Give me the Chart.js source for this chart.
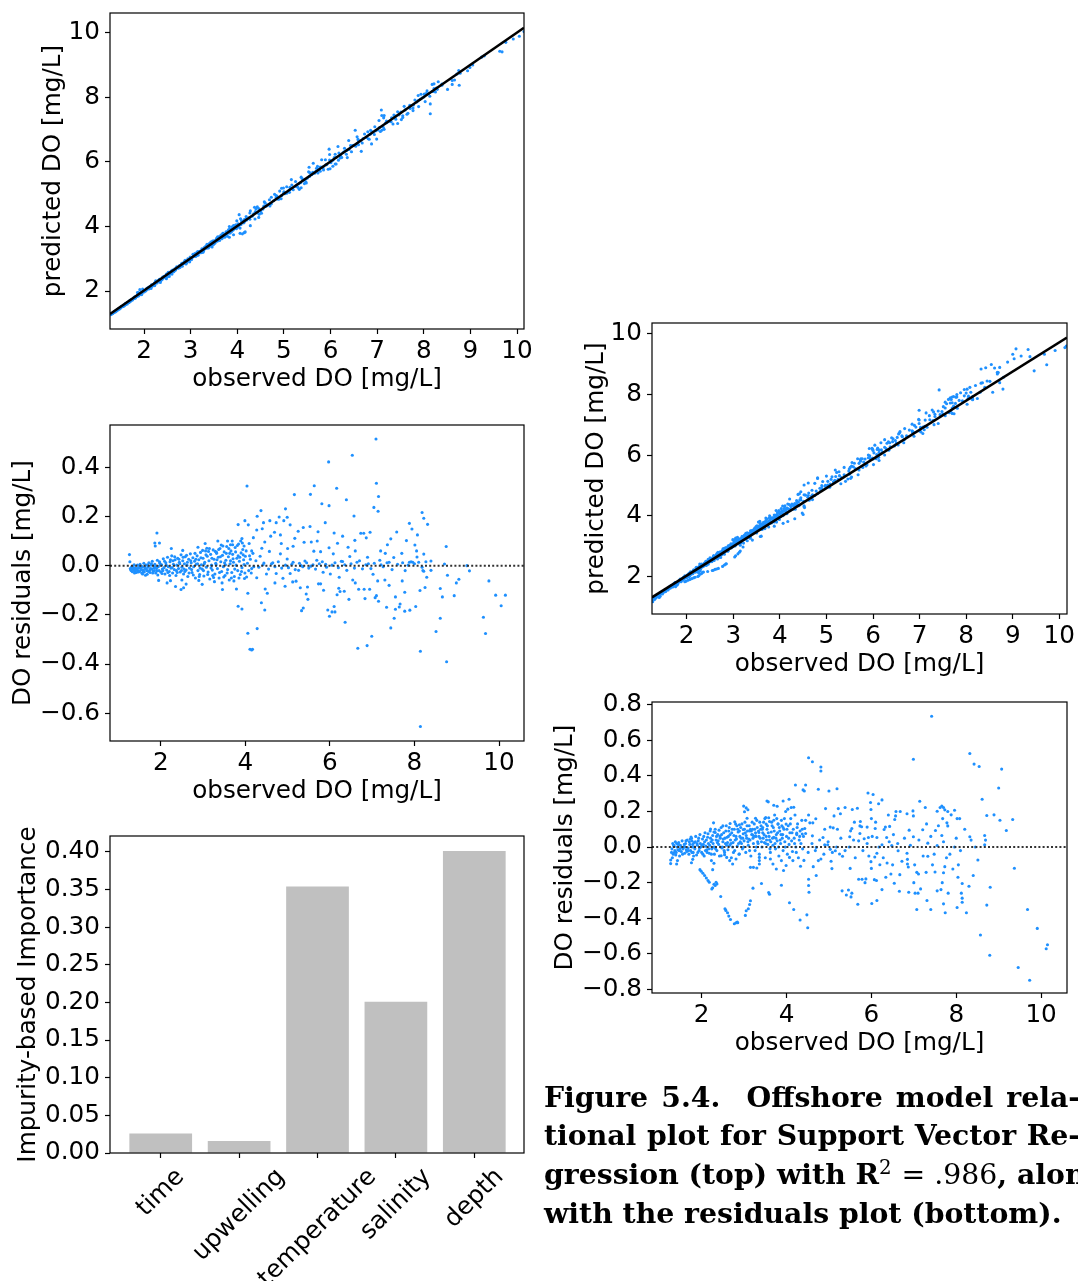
<!DOCTYPE html>
<html>
<head>
<meta charset="utf-8">
<script src="https://cdn.jsdelivr.net/npm/chart.js@4.4.1/dist/chart.umd.min.js"></script>
<style>
body { margin: 0; background: #fff; }
#page { position: relative; width: 1078px; height: 1281px; overflow: hidden; background: #fff; }
#page canvas { position: absolute; }
.cap { position: absolute; left: 544px; top: 1078px; width: 536px; font-family: 'DejaVu Serif', serif; font-weight: bold; font-size: 28.3px; line-height: 38.3px; color: #000; }
.cap div { white-space: nowrap; }
.cap .j { text-align: justify; text-align-last: justify; }
.cap .m { font-weight: normal; }
.cap sup { font-weight: normal; font-size: 0.7em; line-height: 0; vertical-align: 0.5em; }
</style>
</head>
<body>
<div id="page">
  <canvas id="predLeft" width="540" height="400" style="left:0;top:0"></canvas>
  <canvas id="resLeft" width="540" height="420" style="left:0;top:400px"></canvas>
  <canvas id="importance" width="540" height="461" style="left:0;top:820px"></canvas>
  <canvas id="predRight" width="538" height="390" style="left:540px;top:300px"></canvas>
  <canvas id="resRight" width="538" height="400" style="left:540px;top:680px"></canvas>
  <div class="cap">
    <div class="j">Figure 5.4.&nbsp; Offshore model rela-</div>
    <div class="j">tional plot for Support Vector Re-</div>
    <div>gression (top) with R<sup>2</sup> <span class="m">= .986</span>, along</div>
    <div>with the residuals plot (bottom).</div>
  </div>
</div>
<script>
// residuals: [observed DO, residual]
// predicted DO = observed + residual
const leftResiduals = [
  [7.09,0.515],[6.53,0.449],[5.97,0.422],[7.10,0.335],[7.15,0.281],[4.04,0.324],[5.63,0.325],[5.16,0.289],[5.54,0.290],[6.16,0.315],
  [5.81,0.252],[5.98,0.244],[6.39,0.268],[7.04,0.237],[7.14,0.221],[8.18,0.216],[8.22,0.193],[8.31,0.168],[6.57,0.202],[4.95,0.231],
  [4.37,0.224],[4.28,0.201],[3.83,0.167],[3.99,0.183],[4.07,0.166],[4.58,0.183],[4.80,0.198],[4.91,0.183],[4.99,0.197],[5.06,0.166],
  [4.73,0.175],[5.89,0.175],[7.88,0.172],[7.94,0.149],[8.07,0.125],[7.58,0.137],[6.10,0.133],[5.72,0.138],[5.53,0.159],[5.37,0.155],
  [1.91,0.133],[1.86,0.092],[1.97,0.092],[1.87,0.08],[1.26,0.045],[1.27,0.016],[4.46,0.096],[4.19,0.114],[4.27,0.145],[4.43,0.175],
  [3.92,0.11],[4.09,0.09],[4.69,0.136],[4.83,0.125],[5.17,0.111],[5.39,0.095],[5.56,0.096],[6.18,0.091],[6.73,0.132],[6.80,0.132],
  [6.95,0.136],[6.59,0.103],[6.86,0.113],[7.36,0.085],[7.44,0.109],[7.81,0.102],[8.01,0.084],[8.75,0.078],[8.22,0.047],[7.31,0.05],
  [6.43,0.075],[5.98,0.073],[5.78,0.057],[5.13,0.079],[4.39,0.071],[3.65,0.085],[3.09,0.071],[3.32,0.054],
  [2.48,-0.097],[2.54,-0.09],[2.98,-0.076],[2.23,-0.061],[1.64,-0.039],[3.27,-0.065],[3.46,-0.097],[3.79,-0.095],[4.06,-0.112],[3.83,-0.165],
  [3.92,-0.176],[4.06,-0.275],[4.28,-0.256],[4.11,-0.340],[4.15,-0.343],[4.17,-0.340],[4.38,-0.151],[4.46,-0.18],[4.52,-0.112],[4.47,-0.095],
  [4.94,-0.084],[5.12,-0.066],[5.20,-0.063],[5.33,-0.183],[5.37,-0.172],[5.48,-0.137],[5.44,-0.115],[5.47,-0.087],[5.73,-0.074],[5.78,-0.074],
  [5.95,-0.18],[5.99,-0.206],[6.05,-0.188],[6.10,-0.166],[6.12,-0.188],[6.21,-0.092],[6.24,-0.105],[6.17,-0.118],[6.36,-0.23],[6.45,-0.137],
  [6.34,-0.104],[6.66,-0.336],[6.88,-0.325],[6.99,-0.287],[6.68,-0.096],[6.81,-0.096],[6.83,-0.134],[6.94,-0.096],[7.07,-0.13],[7.15,-0.145],
  [7.10,-0.122],[7.34,-0.169],[7.44,-0.253],[7.52,-0.214],[7.55,-0.177],[7.55,-0.127],[7.64,-0.168],[7.66,-0.156],[7.77,-0.185],[7.77,-0.108],
  [7.89,-0.181],[8.03,-0.166],[8.13,-0.101],[8.14,-0.348],[8.14,-0.654],[8.25,-0.089],[8.51,-0.268],[8.61,-0.214],[8.61,-0.093],[8.66,-0.127],
  [8.76,-0.391],[8.94,-0.122],[8.99,-0.07],[9.05,-0.055],[9.30,-0.021],[9.24,0.0],[9.76,-0.062],[9.63,-0.21],[9.68,-0.276],[9.92,-0.12],
  [10.05,-0.163],[10.15,-0.12],
  [8.71,0.007],[8.78,-0.039],[8.39,0.019],[8.39,-0.019],[8.29,-0.047],[8.22,-0.023],[8.06,0.035],[7.96,0.014],[7.88,0.014],[7.78,-0.02],
  [7.71,-0.062],[7.51,0.033],[7.40,0.014],[7.30,-0.058],[7.21,0.004],[7.13,-0.062],[7.02,-0.035],[6.89,0.034],[6.91,0.008],[6.77,-0.013],
  [6.64,0.014],[6.54,-0.058],[6.47,0.037],[6.40,-0.019],[6.30,0.017],[6.22,-0.047],[6.08,0.048],[6.01,-0.034],[5.90,0.006],[5.84,-0.027],
  [5.69,0.022],[5.62,0.059],[5.55,-0.002],[5.41,0.019],[5.32,0.0],[5.26,-0.019],[5.13,0.014],[5.06,-0.032],[4.99,0.027],[4.89,-0.051],
  [4.83,0.048],[4.73,-0.032],[4.65,0.012],[4.57,0.058],[4.50,-0.034],[4.44,0.011],[4.35,0.038],[4.27,-0.049],[4.20,-0.004],[4.12,0.026],
  [4.03,-0.046],[3.97,0.005],
  [4.05,0.01],[4.15,-0.012],[4.25,0.02],[4.32,-0.006],[4.42,0.004],[4.55,-0.014],[4.62,0.008],[4.70,-0.004],[4.78,0.016],[4.86,-0.01],
  [4.95,0.002],[5.02,-0.008],[5.10,0.006],[5.18,-0.016],[5.28,0.01],[5.36,-0.004],[5.45,0.012],[5.50,-0.01],[5.60,0.004],[5.66,-0.014],
  [5.75,0.008],[5.82,0.016],[5.92,-0.006],[6.05,0.002],[6.12,0.012],[6.20,-0.008],[6.27,0.018],[6.35,0.004],[6.50,0.008],[6.58,-0.01],
  [6.70,0.02],[6.85,0.004],[6.97,-0.012],[7.05,0.01],[7.18,0.022],[7.26,-0.004],[7.35,0.012],[7.47,-0.016],[7.60,0.006],[7.72,0.012],
  [7.85,0.002],[7.92,0.016],[8.00,0.008],[8.10,0.014],[8.18,-0.006],[8.27,0.016],
  [4.60,0.12],[4.85,0.09],[5.25,0.14],[5.70,0.10],[4.15,0.06],[4.40,0.15],[5.00,0.07],[6.30,0.12],[6.60,0.06],[7.20,0.06],
  [7.70,0.05],[8.05,0.06],[4.70,-0.07],[5.30,-0.09],[5.85,-0.10],[6.60,-0.07],[7.40,-0.08],[8.20,-0.02],
  [1.28,-0.012],[1.30,-0.02],[1.31,-0.005],[1.33,-0.025],[1.34,-0.012],[1.36,-0.018],[1.37,0.004],[1.39,-0.022],[1.40,-0.01],[1.42,-0.028],
  [1.43,-0.015],[1.45,0.002],[1.46,-0.02],[1.48,-0.008],[1.50,-0.024],[1.51,0.006],[1.53,-0.016],[1.55,-0.03],[1.56,-0.004],[1.58,-0.019],
  [1.60,0.01],[1.61,-0.026],[1.63,-0.012],[1.65,0.003],[1.67,-0.02],[1.68,-0.035],[1.70,-0.006],[1.72,0.012],[1.74,-0.018],[1.75,-0.028],
  [1.77,0.002],[1.79,-0.014],[1.80,0.018],[1.82,-0.022],[1.84,-0.008],[1.86,0.006],[1.88,-0.03],[1.90,-0.012],[1.92,0.022],[1.94,-0.004],
  [1.96,-0.02],[1.98,0.01],[2.00,-0.026],[2.02,0.004],[2.04,-0.014],[2.06,0.028],[2.08,-0.008],[2.10,-0.034],[2.12,0.012],[2.14,-0.018],
  [2.16,0.034],[2.18,-0.004],[2.20,-0.024],[2.22,0.016],[2.24,-0.01],[2.26,0.04],[2.28,-0.03],[2.30,0.006],[2.32,-0.016],[2.34,0.024],
  [2.36,-0.04],[2.38,0.002],[2.40,0.03],[2.42,-0.012],[2.44,0.014],[2.46,-0.026],[2.48,0.044],[2.50,-0.006],[2.52,0.02],[2.54,-0.034],
  [2.56,0.008],[2.58,0.036],[2.60,-0.018],[2.62,0.002],[2.64,-0.044],[2.66,0.026],[2.68,-0.01],[2.70,0.048],[2.72,0.012],[2.74,-0.028],
  [2.76,0.032],[2.78,-0.004],[2.80,0.018],[2.82,-0.05],[2.84,0.006],[2.86,0.04],[2.88,-0.02],[2.90,0.024],[2.92,-0.036],[2.94,0.054],
  [2.96,0.004],[2.98,-0.014],[3.00,0.03],[3.02,-0.042],[3.04,0.014],[3.06,0.06],[3.08,-0.006],[3.10,0.038],[3.12,-0.026],[3.14,0.02],
  [3.16,-0.054],[3.18,0.046],[3.20,0.002],[3.22,-0.018],[3.24,0.064],[3.26,0.026],[3.28,-0.034],[3.30,0.01],[3.32,0.05],[3.34,-0.012],
  [3.36,0.034],[3.38,-0.05],[3.40,0.07],[3.42,0.016],[3.44,-0.024],[3.46,0.042],[3.48,-0.004],[3.50,0.056],[3.52,-0.04],[3.54,0.022],
  [3.56,0.078],[3.58,-0.016],[3.60,0.036],[3.62,-0.058],[3.64,0.008],[3.66,0.06],[3.68,-0.028],[3.70,0.046],[3.72,0.014],[3.74,-0.044],
  [3.76,0.074],[3.78,0.002],[3.80,0.03],[3.82,-0.02],[3.84,0.088],[3.86,0.018],[3.88,-0.036],[3.90,0.052],[3.92,-0.008],[3.94,0.066],
  [3.96,0.024],[3.98,-0.052],[4.00,0.038],
  [1.32,-0.01],[1.38,-0.03],[1.44,-0.012],[1.52,-0.002],[1.57,-0.034],[1.62,-0.006],[1.71,-0.024],[1.78,0.008],[1.85,-0.02],[1.93,-0.038],
  [1.99,0.002],[2.05,-0.02],[2.13,0.002],[2.21,-0.04],[2.29,0.02],[2.37,-0.02],[2.45,0.008],[2.55,-0.014],[2.63,0.014],[2.73,-0.016],
  [2.83,0.026],[2.93,-0.01],[3.03,0.008],[3.13,0.058],[3.23,-0.04],[3.33,0.024],[3.43,0.084],[3.53,0.004],[3.63,0.05],[3.73,-0.062],
  [3.83,0.04],[3.93,0.092],[2.25,0.07],[2.52,0.062],[2.88,0.075],[3.05,0.09],[3.35,0.10],[3.58,0.10],[3.70,0.085],[3.45,-0.07],
  [2.90,-0.06],[2.50,-0.058],[2.15,-0.07],[1.95,-0.06],[2.35,-0.085],[2.60,-0.075],
  [1.29,-0.016],[1.35,-0.006],[1.41,-0.018],[1.47,-0.026],[1.54,-0.01],[1.59,-0.022],[1.66,-0.014],[1.69,0.004],[1.76,-0.012],[1.81,-0.03],
  [1.87,-0.004],[1.91,-0.022],[1.97,0.016],[2.03,-0.032],[2.09,0.018],[2.17,-0.028],[2.23,0.024],[2.27,-0.008],[2.33,0.036],[2.39,-0.028],
  [2.43,0.026],[2.49,-0.02],[2.53,0.034],[2.57,-0.024],[2.61,0.042],[2.67,-0.03],[2.71,0.02],[2.77,-0.038],[2.81,0.05],[2.87,0.008],
  [2.91,-0.044],[2.95,0.032],[2.99,0.062],[3.01,-0.02],[3.07,0.044],[3.11,-0.036],[3.15,0.07],[3.19,-0.01],[3.21,0.03],[3.25,-0.048],
  [3.29,0.058],[3.31,0.004],[3.37,0.066],[3.39,-0.028],[3.41,0.036],[3.47,0.08],[3.49,-0.046],[3.51,0.012],[3.55,0.05],[3.57,-0.03],
  [3.61,0.07],[3.65,0.02],[3.67,-0.05],[3.69,0.10],[3.71,0.028],[3.75,-0.014],[3.77,0.056],[3.81,0.082],[3.85,-0.05],[3.87,0.034],
  [3.89,0.10],[3.91,-0.024],[3.95,0.044],[3.97,0.08],[3.99,-0.03],[4.02,0.06],[4.08,-0.02],[4.10,0.04],[4.14,-0.03],[4.18,0.05]
];

const rightResiduals = [
  [7.42,0.735],[8.32,0.526],[8.42,0.466],[8.54,0.453],[9.07,0.438],[6.99,0.493],[4.52,0.502],[4.61,0.479],[4.81,0.45],[4.81,0.427],
  [4.21,0.349],[4.45,0.349],[4.39,0.321],[4.42,0.315],[4.75,0.325],[5.00,0.315],[5.19,0.328],[5.92,0.304],[6.04,0.295],[6.25,0.265],
  [6.17,0.243],[5.98,0.25],[7.14,0.257],[7.27,0.222],[8.61,0.269],[9.00,0.332],[8.72,0.177],[8.89,0.181],[9.03,0.151],[9.18,0.093],
  [9.33,0.155],[9.37,-0.119],[9.68,-0.351],[9.91,-0.457],[10.15,-0.549],[10.12,-0.571],[9.46,-0.677],[9.73,-0.748],[8.79,-0.608],[8.57,-0.494],
  [8.72,-0.326],[8.80,-0.226],[8.51,-0.073],[8.32,0.058],[8.35,0.039],[8.69,0.039],[8.67,0.013],[8.67,0.065],[7.96,0.0],[8.02,0.16],
  [8.08,0.16],[7.96,0.207],[7.88,0.181],[7.78,0.136],[7.92,-0.123],[8.04,-0.17],[8.14,-0.205],[8.12,-0.259],[8.14,-0.287],[8.14,-0.31],
  [8.02,-0.34],[8.24,-0.369],[7.66,0.231],[7.62,0.222],[7.70,0.222],[7.55,0.201],[7.73,0.209],[7.80,0.119],[7.51,0.093],[7.66,0.065],
  [7.70,0.03],[7.55,0.009],[7.77,-0.06],[7.73,-0.11],[7.70,-0.144],[7.67,-0.2],[7.64,-0.239],[7.55,-0.246],[7.70,-0.319],[7.74,-0.369],
  [7.81,-0.259],[7.40,-0.351],[7.31,-0.3],[7.07,-0.351],[7.03,-0.259],[7.10,-0.259],[7.16,-0.235],[7.07,-0.142],[7.11,-0.151],[7.29,-0.142],
  [7.33,-0.052],[7.44,-0.1],[7.33,0.022],[7.21,0.097],[6.89,0.095],[6.99,0.058],[6.98,0.203],[6.99,0.175],[6.84,0.187],[6.68,0.2],
  [6.57,0.175],[6.58,0.2],[6.55,0.155],[6.43,0.116],[6.33,0.112],[6.30,0.099],[6.48,0.009],[6.63,-0.021],[6.84,-0.035],[6.85,-0.069],
  [6.87,-0.112],[6.85,-0.095],[6.67,-0.155],[6.54,-0.203],[6.66,-0.248],[6.88,-0.254],[6.46,-0.151],[6.34,-0.17],[6.25,-0.239],[6.13,-0.3],
  [6.01,-0.317],[6.07,-0.183],[6.12,-0.188],[5.87,-0.179],[5.85,-0.2],[5.70,-0.181],[5.78,-0.181],[5.68,-0.321],[5.54,-0.259],[5.46,-0.241],
  [5.41,-0.269],[5.52,-0.28],[5.31,-0.246],[5.07,-0.121],[5.25,-0.039],[5.15,-0.021],[5.32,-0.052],[5.49,0.058],[5.51,0.091],[5.54,0.104],
  [5.73,0.119],[5.74,0.144],[5.77,0.114],[5.73,0.076],[5.70,0.035],[5.83,0.047],[5.93,0.054],[6.00,0.16],[5.99,0.211],[5.90,0.112],
  [6.09,0.104],[6.13,0.054],[5.94,-0.05],[5.99,-0.082],[6.08,-0.056],[6.13,-0.035],[6.20,-0.099],[6.37,-0.09],[6.25,0.013],[6.36,0.054],
  [5.38,0.222],[5.55,0.211],[5.67,0.218],[5.27,0.187],[5.22,0.216],[4.92,0.216],[5.03,0.112],[5.10,0.108],[5.12,0.175],[4.86,0.054],
  [4.90,0.013],[4.97,0.013],[5.03,-0.013],[4.81,-0.067],[4.75,-0.076],[4.63,-0.11],[4.70,-0.002],[4.61,0.063],[4.55,0.136],[4.69,0.159],
  [4.62,0.136],[4.51,-0.03],[4.52,-0.181],[4.52,-0.216],[4.53,-0.254],[4.48,-0.381],[4.50,-0.453],[4.32,-0.41],[4.17,-0.351],[4.07,-0.313],
  [4.33,-0.108],[4.41,-0.075],[4.45,0.076],[4.43,0.104],[4.37,0.073],[4.24,0.078],[4.17,0.224],[4.11,0.222],[4.06,0.269],[4.03,0.213],
  [3.92,0.259],[3.78,0.229],[3.70,0.235],[3.57,0.254],[3.54,0.259],[2.99,0.23],[3.05,0.22],[3.09,0.21],[3.01,0.198],[3.07,0.162],
  [3.27,0.162],[3.51,0.166],[3.88,-0.215],[3.58,-0.256],[3.60,-0.265],[3.41,-0.205],[3.21,-0.231],[3.15,-0.302],[3.13,-0.323],[3.10,-0.347],
  [3.05,-0.358],[3.03,-0.384],[2.85,-0.425],[2.81,-0.425],[2.77,-0.431],[2.84,-0.422],[2.68,-0.407],[2.64,-0.388],[2.61,-0.369],[2.57,-0.356],
  [2.55,-0.347],[2.45,-0.278],[2.36,-0.207],[2.34,-0.198],[2.32,-0.216],[2.26,-0.229],[2.24,-0.235],[2.29,-0.209],[2.18,-0.198],[2.15,-0.188],
  [2.11,-0.174],[2.07,-0.16],[2.03,-0.147],[1.99,-0.136],[1.96,-0.127],[2.26,-0.127],[2.29,-0.091],[2.23,-0.076],[1.79,-0.069],[1.76,-0.088],
  [1.41,-0.095],[1.43,-0.076],[1.27,-0.093],[1.27,-0.073],
  [2.28,0.136],[2.21,0.101],[2.32,0.082],[2.50,0.119],[2.67,0.132],[2.78,0.142],[2.89,0.125],[2.98,0.099],[1.75,0.056],[1.77,0.035],
  [3.13,0.091],[3.20,0.069],[3.27,0.063],[3.35,0.082],[3.44,0.11],[3.52,0.129],[3.60,0.144],[3.70,0.151],[3.80,0.129],[3.92,0.11],
  [3.99,0.129],[3.15,-0.114],[3.22,-0.114],[3.30,-0.118],[3.36,-0.058],[3.36,-0.076],[3.36,-0.095],[3.62,-0.067],[3.68,-0.095],[3.76,-0.123],
  [3.88,-0.076],[3.93,-0.132],[3.99,-0.104],[4.07,-0.058],[4.15,-0.076],[4.23,-0.03],[2.73,-0.095],[2.66,-0.076],[2.59,-0.058],[2.81,-0.067],
  [2.89,-0.039],[2.54,-0.043],[2.46,-0.049],
  [1.30,-0.01],[1.32,0.02],[1.33,-0.04],[1.35,0.005],[1.37,-0.02],[1.38,0.03],[1.40,-0.03],[1.42,0.0],[1.44,-0.015],[1.46,0.025],
  [1.48,-0.05],[1.50,0.01],[1.52,-0.025],[1.54,0.035],[1.56,-0.01],[1.58,0.0],[1.60,-0.035],[1.62,0.02],[1.64,-0.015],[1.66,0.04],
  [1.68,-0.005],[1.70,-0.04],[1.72,0.015],[1.74,-0.02],[1.76,0.05],[1.78,0.0],[1.80,-0.03],[1.82,0.025],[1.84,-0.01],[1.86,0.06],
  [1.88,-0.045],[1.90,0.01],[1.92,0.035],[1.94,-0.02],[1.96,0.07],[1.98,0.0],[2.00,-0.03],[2.02,0.045],[2.04,0.015],[2.06,-0.05],
  [2.08,0.08],[2.10,0.005],[2.12,-0.015],[2.14,0.055],[2.16,0.02],[2.18,-0.035],[2.20,0.09],[2.22,0.03],[2.24,-0.01],[2.26,0.065],
  [2.28,0.0],[2.30,-0.04],[2.32,0.10],[2.34,0.04],[2.36,-0.02],[2.38,0.07],[2.40,0.015],[2.42,-0.05],[2.44,0.05],[2.46,0.11],
  [2.48,-0.005],[2.50,0.03],[2.52,0.08],[2.54,-0.03],[2.56,0.02],[2.58,0.12],[2.60,0.055],[2.62,-0.015],[2.64,0.09],[2.66,0.01],
  [2.68,0.04],[2.70,-0.06],[2.72,0.10],[2.74,0.025],[2.76,0.065],[2.78,-0.02],[2.80,0.13],[2.82,0.045],[2.84,0.005],[2.86,0.085],
  [2.88,-0.04],[2.90,0.06],[2.92,0.11],[2.94,0.02],[2.96,-0.01],[2.98,0.075],[3.00,0.035],[3.02,0.14],[3.04,-0.03],[3.06,0.05],
  [3.08,0.09],[3.10,0.01],[3.12,0.12],[3.14,0.04],[3.16,-0.05],[3.18,0.07],[3.20,0.10],[3.22,0.02],[3.24,0.13],[3.26,-0.02],
  [3.28,0.06],[3.30,0.15],[3.32,0.03],[3.34,0.09],[3.36,-0.04],[3.38,0.05],[3.40,0.12],[3.42,0.0],[3.44,0.08],[3.46,0.14],
  [3.48,0.025],[3.50,-0.06],[3.52,0.06],[3.54,0.10],[3.56,0.015],[3.58,0.165],[3.60,0.04],[3.62,-0.03],[3.64,0.085],[3.66,0.12],
  [3.68,0.01],[3.70,0.055],[3.72,0.18],[3.74,-0.01],[3.76,0.07],[3.78,0.035],[3.80,0.13],[3.82,-0.05],[3.84,0.09],[3.86,0.02],
  [3.88,0.15],[3.90,0.05],[3.92,-0.02],[3.94,0.10],[3.96,0.03],[3.98,0.20],[4.00,0.06],[4.02,-0.04],[4.04,0.12],[4.06,0.015],
  [4.08,0.08],[4.10,0.16],[4.12,0.035],[4.14,-0.025],[4.16,0.10],[4.18,0.05],[4.20,0.18],[4.22,0.0],[4.24,0.07],[4.26,0.13],
  [4.28,-0.06],[4.30,0.04],[4.32,0.09],[4.34,0.02],[4.36,0.15],[4.38,-0.01],[4.40,0.06],
  [1.31,-0.06],[1.36,-0.03],[1.41,0.02],[1.47,-0.02],[1.53,0.0],[1.59,0.015],[1.65,-0.025],[1.71,0.03],[1.77,-0.03],[1.83,0.0],
  [1.89,0.02],[1.95,-0.005],[2.01,0.01],[2.07,0.03],[2.13,-0.03],[2.19,0.01],[2.25,0.04],[2.31,0.0],[2.37,0.025],[2.43,0.06],
  [2.49,0.0],[2.55,0.05],[2.61,0.025],[2.67,0.07],[2.73,0.0],[2.79,0.04],[2.85,0.10],[2.91,0.03],[2.97,0.05],[3.03,0.08],
  [3.09,0.03],[3.15,0.10],[3.21,0.05],[3.27,0.08],[3.33,0.02],[3.39,0.10],[3.45,0.05],[3.51,0.02],[3.57,0.08],[3.63,0.03],
  [3.69,0.11],[3.75,0.05],[3.81,0.0],[3.87,0.07],
  [4.60,0.02],[4.68,-0.02],[4.78,0.04],[4.88,-0.04],[4.98,0.03],[5.08,-0.03],[5.18,0.0],[5.28,0.05],[5.38,-0.02],[5.48,0.0],
  [5.58,0.04],[5.62,-0.06],[5.80,-0.02],[5.90,0.02],[6.02,0.06],[6.18,0.0],[6.28,-0.06],[6.42,0.03],[6.52,0.07],[6.62,0.02],
  [6.72,-0.08],[6.78,0.05],[6.92,0.01],[7.02,-0.10],[7.12,0.04],[7.22,-0.05],[7.40,0.06],[7.48,-0.04],[7.58,0.12],[7.68,0.16],
  [7.85,-0.04],[8.00,0.05],[8.10,-0.02],[8.20,0.10],[8.40,-0.16],[8.45,0.0],[4.45,0.15],[4.52,0.18],[4.90,0.10],[5.20,0.10],
  [5.60,0.14],[6.10,0.14],[6.40,0.18],[7.30,0.13],[7.80,0.20],[4.70,-0.16],[5.05,-0.08],[5.50,-0.12],[6.00,-0.12],[6.50,-0.10],
  [7.00,-0.20],[7.50,-0.14],[8.05,-0.10],[8.30,-0.22],
  [1.29,-0.03],[1.34,0.01],[1.39,-0.045],[1.45,0.015],[1.49,-0.01],[1.55,-0.04],[1.61,0.0],[1.63,0.035],[1.69,-0.02],[1.73,0.045],
  [1.79,0.015],[1.81,-0.05],[1.85,0.03],[1.91,-0.03],[1.93,0.05],[1.97,0.02],[2.03,-0.04],[2.05,0.06],[2.09,-0.02],[2.11,0.04],
  [2.15,0.075],[2.17,-0.01],[2.21,0.05],[2.23,-0.04],[2.27,0.02],[2.29,0.085],[2.33,-0.01],[2.35,0.06],[2.39,0.035],[2.41,0.095],
  [2.45,0.0],[2.47,0.07],[2.51,0.045],[2.53,-0.02],[2.57,0.09],[2.59,0.01],[2.63,0.06],[2.65,0.11],[2.69,0.02],[2.71,0.08],
  [2.75,-0.03],[2.77,0.10],[2.81,0.06],[2.83,0.12],[2.87,0.02],[2.89,0.09],[2.93,0.05],[2.95,0.13],[2.99,0.0],[3.01,0.10],
  [3.05,0.065],[3.07,0.12],[3.11,0.045],[3.13,-0.02],[3.17,0.09],[3.19,0.14],[3.23,0.06],[3.25,0.10],[3.29,0.0],[3.31,0.11],
  [3.35,0.06],[3.37,0.14],[3.41,0.03],[3.43,0.10],[3.47,0.07],[3.49,0.16],[3.53,0.04],[3.55,0.12],[3.59,0.06],[3.61,-0.01],
  [3.65,0.14],[3.67,0.05],[3.71,0.09],[3.73,0.02],[3.77,0.16],[3.79,0.08],[3.83,0.11],[3.85,0.04],[3.89,0.12],[3.91,0.07],
  [3.95,0.16],[3.97,0.0],[4.01,0.10],[4.05,0.05],[4.09,0.13],[4.13,0.08],[4.19,0.02],[4.25,0.11],[4.31,0.06],[4.37,0.10]
];

// fitted lines in the predicted vs observed plots
const lineLeftX = [1.27, 10.15];
const lineLeftY = [1.29, 10.15];
const lineRightX = [1.255, 10.165];
const lineRightY = [1.32, 9.88];

// feature importances
const featureNames = ['time', 'upwelling', 'temperature', 'salinity', 'depth'];
const importances = [0.026, 0.016, 0.354, 0.201, 0.401];

const BLUE = '#1e90ff';
const FONT = "'DejaVu Sans', sans-serif";
const FS = 24.7;

Chart.defaults.font.family = FONT;
Chart.defaults.font.size = FS;
Chart.defaults.color = '#000';
Chart.defaults.animation = false;
Chart.defaults.plugins.legend.display = false;
Chart.defaults.plugins.tooltip.enabled = false;

// matplotlib style box around the axes
const frame = {
  id: 'frame',
  afterDraw(chart) {
    const a = chart.chartArea, ctx = chart.ctx;
    ctx.save();
    ctx.strokeStyle = '#000';
    ctx.lineWidth = 1.2;
    ctx.strokeRect(a.left, a.top, a.right - a.left, a.bottom - a.top);
    ctx.restore();
  }
};

function fmt(v, digits) {
  if (Math.abs(v) < 1e-9) v = 0;
  const s = digits ? v.toFixed(digits) : String(Math.round(v));
  return s.replace('-', '\u2212');
}

function axis(o) {
  return {
    type: 'linear',
    min: o.min,
    max: o.max,
    offset: false,
    afterFit: s => {
      if (o.width) s.width = o.width;
      if (o.height) s.height = o.height;
      s.paddingTop = 0; s.paddingBottom = 0; s.paddingLeft = 0; s.paddingRight = 0;
    },
    grid: { display: true, offset: false, drawOnChartArea: false, drawTicks: true, tickLength: 5, tickColor: '#000', tickWidth: 1.2 },
    border: { display: false },
    ticks: {
      display: o.labels !== false,
      stepSize: o.step,
      includeBounds: false,
      autoSkip: false,
      maxRotation: 0,
      padding: o.pad,
      font: { size: FS, lineHeight: 1.2 },
      color: '#000',
      callback: v => fmt(v, o.digits)
    },
    title: {
      display: !!o.title,
      text: o.title,
      color: '#000',
      font: { size: FS, lineHeight: 1.2 },
      padding: { top: o.titlePad || 0, bottom: o.titlePad || 0 }
    }
  };
}

function toPoints(res, predicted) {
  return res.map(p => ({ x: p[0], y: predicted ? p[0] + p[1] : p[1] }));
}

function scatterChart(id, pts, line, opts) {
  new Chart(document.getElementById(id), {
    type: 'scatter',
    data: {
      datasets: [
        {
          data: line,
          showLine: true,
          borderColor: line.dashed ? '#333' : '#000',
          borderWidth: line.dashed ? 2 : 2.6,
          borderDash: line.dashed ? [2, 2.2] : [],
          pointRadius: 0,
          clip: 0
        },
        {
          data: pts,
          backgroundColor: BLUE,
          borderWidth: 0,
          pointRadius: 1.55
        }
      ]
    },
    options: {
      responsive: false,
      devicePixelRatio: 1,
      layout: { padding: opts.padding },
      scales: { x: axis(opts.x), y: axis(opts.y) }
    },
    plugins: [frame]
  });
}

// top left: predicted vs observed
const leftLine = lineLeftX.map((x, i) => ({ x: x, y: lineLeftY[i] }));
scatterChart('predLeft', toPoints(leftResiduals, true), leftLine, {
  padding: { left: 0, top: 13, right: 16, bottom: 0 },
  x: { min: 1.27, max: 10.15, step: 1, digits: 0, height: 71, pad: 3, title: 'observed DO [mg/L]', titlePad: 5.6 },
  y: { min: 0.825, max: 10.606, step: 2, digits: 0, width: 110, pad: 5, title: 'predicted DO [mg/L]', titlePad: 39.2 }
});

// middle left: residuals
const zeroLeft = [{ x: 0.8, y: 0 }, { x: 10.59, y: 0 }];
zeroLeft.dashed = true;
scatterChart('resLeft', toPoints(leftResiduals, false), zeroLeft, {
  padding: { left: 0, top: 25, right: 16, bottom: 0 },
  x: { min: 0.80, max: 10.59, step: 2, digits: 0, height: 79, pad: 3, title: 'observed DO [mg/L]', titlePad: 13.6 },
  y: { min: -0.713, max: 0.572, step: 0.2, digits: 1, width: 110, pad: 5, title: 'DO residuals [mg/L]', titlePad: 9.2 }
});

// right top: predicted vs observed
const rightLine = lineRightX.map((x, i) => ({ x: x, y: lineRightY[i] }));
scatterChart('predRight', toPoints(rightResiduals, true), rightLine, {
  padding: { left: 0, top: 23, right: 11, bottom: 0 },
  x: { min: 1.255, max: 10.165, step: 1, digits: 0, height: 76, pad: 3, title: 'observed DO [mg/L]', titlePad: 10.6 },
  y: { min: 0.77, max: 10.36, step: 2, digits: 0, width: 112, pad: 5, title: 'predicted DO [mg/L]', titlePad: 42.2 }
});

// right bottom: residuals
const zeroRight = [{ x: 0.83, y: 0 }, { x: 10.61, y: 0 }];
zeroRight.dashed = true;
scatterChart('resRight', toPoints(rightResiduals, false), zeroRight, {
  padding: { left: 0, top: 22, right: 11, bottom: 0 },
  x: { min: 0.83, max: 10.61, step: 2, digits: 0, height: 87, pad: 3, title: 'observed DO [mg/L]', titlePad: 21.6 },
  y: { min: -0.82, max: 0.815, step: 0.2, digits: 1, width: 112, pad: 5, title: 'DO residuals [mg/L]', titlePad: 11.2 }
});

// rotated category labels, centred on the tick like matplotlib
const rotatedLabels = {
  id: 'rotatedLabels',
  afterDraw(chart) {
    const xs = chart.scales.x, ctx = chart.ctx;
    ctx.save();
    ctx.font = FS + 'px ' + FONT;
    ctx.fillStyle = '#000';
    ctx.textAlign = 'center';
    ctx.textBaseline = 'middle';
    featureNames.forEach((name, i) => {
      const w = ctx.measureText(name).width;
      const h = FS * 1.16;
      const cy = chart.chartArea.bottom + 10 + (w + h) * Math.SQRT1_2 / 2;
      ctx.save();
      ctx.translate(xs.getPixelForValue(i), cy);
      ctx.rotate(-Math.PI / 4);
      ctx.fillText(name, 0, 0);
      ctx.restore();
    });
    ctx.restore();
  }
};

const barX = axis({ min: -0.647, max: 4.634, step: 1, digits: 0, height: 128, pad: 3, labels: false });
const barY = axis({ min: 0, max: 0.421, step: 0.05, digits: 2, width: 110, pad: 5, title: 'Impurity-based Importance', titlePad: 13.6 });

new Chart(document.getElementById('importance'), {
  type: 'bar',
  data: {
    datasets: [{
      data: importances.map((v, i) => ({ x: i, y: v })),
      backgroundColor: '#c0c0c0',
      borderWidth: 0,
      barPercentage: 0.8,
      categoryPercentage: 1
    }]
  },
  options: {
    responsive: false,
    devicePixelRatio: 1,
    layout: { padding: { left: 0, top: 16, right: 16, bottom: 0 } },
    scales: { x: barX, y: barY }
  },
  plugins: [frame, rotatedLabels]
});
</script>
</body>
</html>
